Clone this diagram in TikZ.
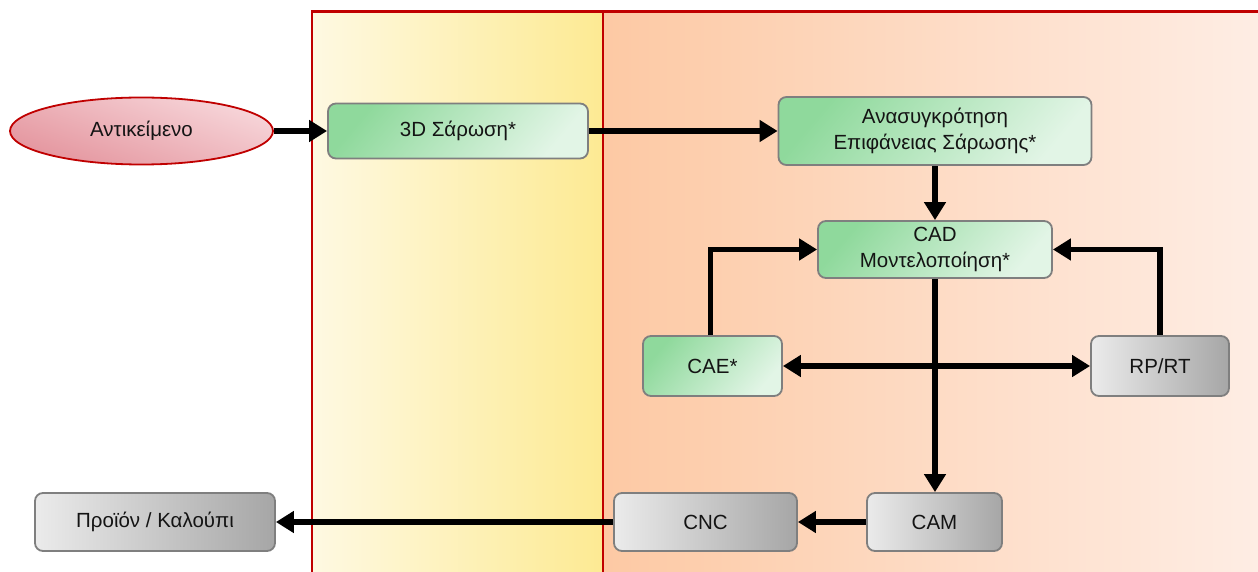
\documentclass[tikz,border=0pt]{standalone}
\usepackage{fontspec}
\setmainfont{Liberation Sans}
\usetikzlibrary{arrows.meta,shapes.geometric}

\definecolor{frame}{HTML}{C00000}
\definecolor{yelL}{HTML}{FEF9E2}
\definecolor{yelR}{HTML}{FDEA93}
\definecolor{orgL}{HTML}{FDC9A4}
\definecolor{orgR}{HTML}{FEEDE4}
\definecolor{grnA}{HTML}{8FD99C}
\definecolor{grnB}{HTML}{E2F5E6}
\definecolor{gryL}{HTML}{EBEBEB}
\definecolor{gryR}{HTML}{A6A6A6}
\definecolor{redA}{HTML}{F7D6DA}
\definecolor{redB}{HTML}{E4959E}
\definecolor{boxline}{HTML}{7F7F7F}
\definecolor{ink}{HTML}{141414}

\tikzset{
  lbl/.style={font=\fontsize{20.5}{26}\selectfont, text=ink, align=center, inner sep=0pt},
  greenbox/.style={lbl, rounded corners=8pt, draw=boxline, line width=1.8pt,
    top color=grnA, bottom color=grnB, shading angle=50},
  graybox/.style={lbl, rounded corners=8pt, draw=boxline, line width=1.8pt,
    left color=gryL, right color=gryR},
  startnode/.style={lbl, ellipse, draw=frame, line width=1.8pt,
    top color=redA, bottom color=redB, shading angle=-20},
  flow/.style={line width=5.5pt, -{Triangle[length=18pt,width=21pt]}},
  flowboth/.style={line width=5.5pt, {Triangle[length=18pt,width=21pt]}-{Triangle[length=18pt,width=21pt]}}
}

\begin{document}
\begin{tikzpicture}[x=1pt,y=-1pt]
  \useasboundingbox (0,0) rectangle (1258,572);

  % background panels
  \shade[left color=yelL, right color=yelR] (312,12) rectangle (603,572);
  \shade[left color=orgL, right color=orgR] (603,12) rectangle (1258,572);
  \draw[frame, line width=2pt] (312,572) -- (312,12);
  \draw[frame, line width=2pt] (603,12) -- (603,572);
  \draw[frame, line width=3pt] (311,12) -- (1258,12);

  % nodes
  \node[startnode, minimum width=263pt, minimum height=67pt] (obj) at (141.5,131) {Αντικείμενο};
  \node[greenbox, minimum width=260pt, minimum height=55pt] (scan) at (458,131) {3D Σάρωση*};
  \node[greenbox, minimum width=313pt, minimum height=68pt] (rec) at (935,131) {Ανασυγκρότηση\\Επιφάνειας Σάρωσης*};
  \node[greenbox, minimum width=234pt, minimum height=57pt] (cad) at (935,249.5) {CAD\\Μοντελοποίηση*};
  \node[greenbox, minimum width=139pt, minimum height=60pt] (cae) at (712.5,366) {CAE*};
  \node[graybox, minimum width=138pt, minimum height=60pt] (rprt) at (1160,366) {RP/RT};
  \node[graybox, minimum width=135pt, minimum height=58pt] (cam) at (934.5,522) {CAM};
  \node[graybox, minimum width=183pt, minimum height=58pt] (cnc) at (705.5,522) {CNC};
  \node[graybox, minimum width=240pt, minimum height=58pt] (prod) at (155,522) {Προϊόν / Καλούπι};

  % connectors
  \draw[flow] (obj.east) -- (scan.west);
  \draw[flow] (scan.east) -- (rec.west);
  \draw[flow] (rec.south) -- (cad.north);
  \draw[flow] ([xshift=-2pt]cae.north) |- (cad.west);
  \draw[flow] (rprt.north) |- (cad.east);
  \draw[flowboth] (cae.east) -- (rprt.west);
  \draw[flow] (cad.south) -- (cad.south |- cam.north);
  \draw[flow] (cam.west) -- (cnc.east);
  \draw[flow] (cnc.west) -- (prod.east);
\end{tikzpicture}
\end{document}
